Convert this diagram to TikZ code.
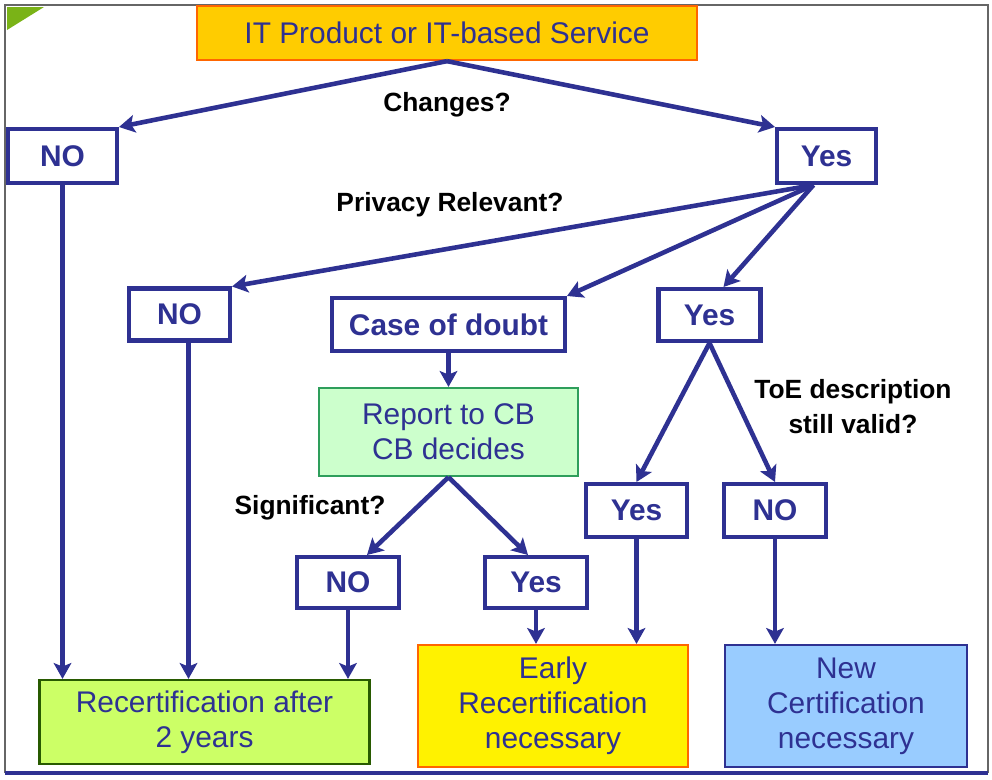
\documentclass[tikz,border=0pt]{standalone}
\usepackage{fontspec}
\setmainfont{Liberation Sans}
\usetikzlibrary{arrows.meta}

\begin{document}
\begin{tikzpicture}[
  x=0.02cm, y=-0.02cm,
  >={Stealth[length=9pt, width=10pt, inset=2pt]},
  flow/.style={->, line width=2.6pt, draw=navy},
  choice/.style={draw=navy, line width=2.3pt, fill=white, inner sep=0pt,
    font=\fontsize{17}{20}\selectfont\bfseries, text=navy},
  result/.style={line width=1.3pt, inner sep=0pt, align=center,
    font=\fontsize{17}{20}\selectfont, text=navy},
  question/.style={font=\fontsize{15}{20}\selectfont\bfseries, align=center, text=black}
]

\definecolor{navy}{RGB}{46,49,146}
\definecolor{topfill}{RGB}{255,204,0}
\definecolor{orangeline}{RGB}{255,102,0}
\definecolor{reportfill}{RGB}{204,255,204}
\definecolor{reportline}{RGB}{46,158,91}
\definecolor{limefill}{RGB}{204,255,102}
\definecolor{limeline}{RGB}{40,90,0}
\definecolor{skyfill}{RGB}{153,204,255}
\definecolor{cornergreen}{RGB}{122,179,23}

\useasboundingbox (0,0) rectangle (992,779);
\fill[white] (0,0) rectangle (992,779);

% frame
\fill[cornergreen] (7,7) -- (44,7) -- (7,30) -- cycle;
\draw[black!60, line width=1pt] (5,773) -- (5,5) -- (988,5) -- (988,773);
\draw[navy, line width=2.2pt] (5,773) -- (988,773);

\node[result, fill=topfill, draw=orangeline, minimum width=10cm, minimum height=1.08cm]
  (product) at (447,33) {IT Product or IT-based Service};

\node[choice, minimum width=2.18cm, minimum height=1.08cm] (no1) at (62.5,156) {NO};
\node[choice, minimum width=1.98cm, minimum height=1.08cm] (yes1) at (826.5,156) {Yes};

\node[choice, minimum width=2.02cm, minimum height=1.04cm] (no2) at (179.5,314.5) {NO};
\node[choice, minimum width=4.66cm, minimum height=1.06cm] (doubt) at (448.5,324.5) {Case of doubt};
\node[choice, minimum width=2.04cm, minimum height=1.04cm] (yes2) at (709.5,315) {Yes};

\node[result, fill=reportfill, draw=reportline, minimum width=5.18cm, minimum height=1.76cm]
  (report) at (448.5,432) {Report to CB\\CB decides};

\node[choice, minimum width=2.04cm, minimum height=1.02cm] (no3) at (348,582.5) {NO};
\node[choice, minimum width=2.04cm, minimum height=1.02cm] (yes3) at (536,582.5) {Yes};
\node[choice, minimum width=2.02cm, minimum height=1.06cm] (yes4) at (636.5,510.5) {Yes};
\node[choice, minimum width=2.04cm, minimum height=1.06cm] (no4) at (775,510.5) {NO};

\node[result, fill=limefill, draw=limeline, minimum width=6.6cm, minimum height=1.68cm]
  (recert) at (204.5,722) {Recertification after\\2 years};
\node[result, fill=yellow, draw=orangeline, minimum width=5.4cm, minimum height=2.44cm]
  (early) at (553,706) {Early\\Recertification\\necessary};
\node[result, fill=skyfill, draw=navy, minimum width=4.84cm, minimum height=2.44cm]
  (newcert) at (846,706) {New\\Certification\\necessary};

\node[question] (changes) at (447,105) {Changes?};
\node[question] (privacy) at (450,205) {Privacy Relevant?};
\node[question] (significant) at (310,508) {Significant?};
\node[question] (toe) at (853,407) {ToE description\\still valid?};

\draw[flow] (product.south) -- (no1.north east);
\draw[flow] (product.south) -- (yes1.north west);

\draw[flow] ([xshift=-0.26cm]yes1.south) -- (no2.north east);
\draw[flow] ([xshift=-0.26cm]yes1.south) -- (doubt.north east);
\draw[flow] ([xshift=-0.26cm]yes1.south) -- ([xshift=0.28cm]yes2.north);

\draw[flow] (no1.south) -- (no1.south |- recert.north);
\draw[flow] ([xshift=0.18cm]no2.south) -- ([xshift=0.18cm]no2.south |- recert.north);

\draw[flow] (doubt) -- (report);
\draw[flow] (report.south) -- ([xshift=0.38cm]no3.north);
\draw[flow] (report.south) -- ([xshift=-0.16cm]yes3.north);
\draw[flow] (no3.south) -- (no3.south |- recert.north);
\draw[flow] (yes3.south) -- (yes3.south |- early.north);

\draw[flow] (yes2.south) -- (yes4.north);
\draw[flow] (yes2.south) -- (no4.north);
\draw[flow] (yes4.south) -- (yes4.south |- early.north);
\draw[flow] (no4.south) -- (no4.south |- newcert.north);

\end{tikzpicture}
\end{document}
